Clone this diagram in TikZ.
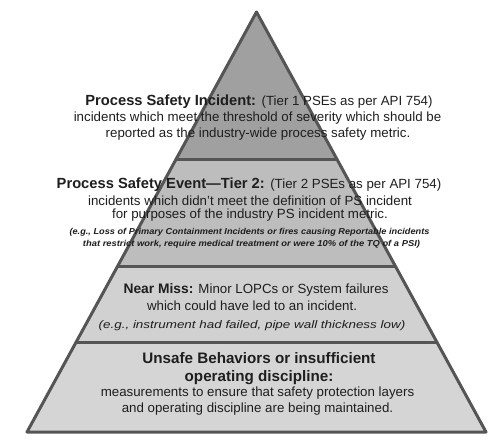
\documentclass[tikz,border=0pt]{standalone}
\usepackage{fontspec}
\usepackage{graphicx}
\setmainfont{Liberation Sans}
\definecolor{edge}{HTML}{555555}
\definecolor{tierA}{HTML}{A0A0A0}
\definecolor{tierB}{HTML}{BDBDBD}
\definecolor{tierC}{HTML}{D1D1D1}
\definecolor{tierD}{HTML}{D5D5D5}
\definecolor{ink}{HTML}{1E1E1E}
\newcommand{\hdsz}{\fontsize{14.7}{16}\selectfont\bfseries}
\newcommand{\rgsz}{\fontsize{13.3}{15}\selectfont\mdseries}
\newcommand{\stretchit}[2]{\scalebox{#1}[1]{#2}}
\tikzset{
  txt/.style={anchor=base, inner sep=0pt, text=ink},
  bsz/.style={font=\rgsz},
  esz/.style={font=\fontsize{8.6}{10}\selectfont\bfseries\itshape},
  nsz/.style={font=\fontsize{11}{13}\selectfont\itshape},
  outline/.style={draw=edge, line width=3pt, line join=round},
}
\begin{document}
\begin{tikzpicture}[x=1pt,y=-1pt]
\useasboundingbox (0,0) rectangle (494,444);
% corner coordinates
\coordinate (apex) at (256.5,12);
\coordinate (l1) at (176.2,159); \coordinate (r1) at (336.8,159);
\coordinate (l2) at (117.7,266); \coordinate (r2) at (395.3,266);
\coordinate (l3) at (76.2,342);  \coordinate (r3) at (436.8,342);
\coordinate (bl) at (27,432);    \coordinate (br) at (486,432);
% layer fills
\fill[tierA] (apex) -- (r1) -- (l1) -- cycle;
\fill[tierB] (l1) -- (r1) -- (r2) -- (l2) -- cycle;
\fill[tierC] (l2) -- (r2) -- (r3) -- (l3) -- cycle;
\fill[tierD] (l3) -- (r3) -- (br) -- (bl) -- cycle;
% separators and outline
\draw[outline] (l1) -- (r1);
\draw[outline] (l2) -- (r2);
\draw[outline] (l3) -- (r3);
\draw[outline] (apex) -- (br) -- (bl) -- cycle;
% layer 1
\node[txt,font=\hdsz] (a1) at (259,105) {Process Safety Incident: {\rgsz(Tier 1 PSEs as per API 754)}};
\node[txt,bsz] (a2) at (257.5,121.5) {incidents which meet the threshold of severity which should be};
\node[txt,bsz] (a3) at (258,137) {reported as the industry-wide process safety metric.};
% layer 2
\node[txt,font=\hdsz] (b1) at (249,188) {Process Safety Event—Tier 2: {\rgsz(Tier 2 PSEs as per API 754)}};
\node[txt,bsz] (b2) at (250,205) {incidents which didn't meet the definition of PS incident};
\node[txt,bsz] (b3) at (250,218) {for purposes of the industry PS incident metric.};
\node[txt,esz] (b4) at (249.5,234.5) {\stretchit{1.07}{(e.g., Loss of Primary Containment Incidents or fires causing Reportable incidents}};
\node[txt,esz] (b5) at (251.5,246.5) {\stretchit{1.09}{that restrict work, require medical treatment or were 10\% of the TQ of a PSI)}};
% layer 3
\node[txt,font=\fontsize{13.8}{16}\selectfont\bfseries] (c1) at (256,293) {Near Miss: {\rgsz Minor LOPCs or System failures}};
\node[txt,bsz] (c2) at (252,310.5) {which could have led to an incident.};
\node[txt,nsz] (c3) at (252,328.5) {\stretchit{1.22}{(e.g., instrument had failed, pipe wall thickness low)}};
% layer 4
\node[txt,font=\fontsize{15.2}{16}\selectfont\bfseries] (d1) at (259,363.5) {Unsafe Behaviors or insufficient};
\node[txt,font=\fontsize{15.2}{16}\selectfont\bfseries] (d2) at (259,381) {operating discipline:};
\node[txt,bsz] (d3) at (257.5,396.5) {measurements to ensure that safety protection layers};
\node[txt,bsz] (d4) at (257.5,412.5) {and operating discipline are being maintained.};
\end{tikzpicture}
\end{document}
